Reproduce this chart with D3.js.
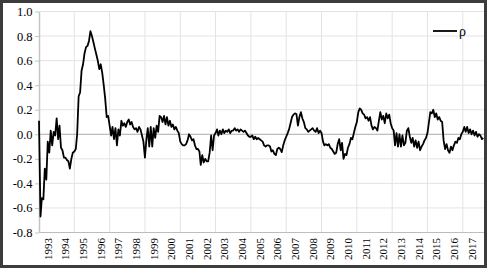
<!DOCTYPE html>
<html><head><meta charset="utf-8">
<script src="https://cdn.jsdelivr.net/npm/d3@7"></script>
<style>body{margin:0;background:#fff}svg{display:block}</style>
</head><body><svg id="c" width="489" height="270"></svg>
<script>
// ---- data (monthly, starting January 1993) ----
const startYear = 1993;
const rho = [
  // 1993
  0.11, -0.67, -0.52, -0.53, -0.28, -0.37, -0.06, -0.15, 0.03, -0.09, 0.02, -0.01,
  // 1994
  0.13, -0.04, 0.07, -0.11, -0.13, -0.19, -0.19, -0.21, -0.22, -0.28, -0.20, -0.15,
  // 1995
  -0.14, -0.12, 0.00, 0.31, 0.34, 0.52, 0.57, 0.66, 0.71, 0.72, 0.76, 0.84,
  // 1996
  0.80, 0.75, 0.70, 0.65, 0.60, 0.53, 0.57, 0.50, 0.40, 0.29, 0.14, 0.15,
  // 1997
  0.07, -0.01, 0.06, -0.04, 0.05, -0.09, 0.04, -0.01, 0.11, 0.07, 0.09, 0.06,
  // 1998
  0.10, 0.12, 0.08, 0.10, 0.06, 0.04, 0.05, 0.02, 0.06, 0.04, -0.01, -0.06,
  // 1999
  -0.19, -0.04, 0.05, -0.10, 0.06, -0.10, 0.05, -0.03, 0.07, 0.02, 0.15, 0.14,
  // 2000
  0.10, 0.15, 0.08, 0.14, 0.07, 0.11, 0.06, 0.08, 0.04, 0.06, 0.03, 0.01,
  // 2001
  -0.06, -0.08, -0.09, -0.09, -0.08, -0.05, 0.00, -0.02, -0.05, -0.04, -0.09, -0.12,
  // 2002
  -0.12, -0.14, -0.25, -0.17, -0.23, -0.20, -0.22, -0.22, -0.15, -0.01, -0.13, -0.01,
  // 2003
  0.01, 0.04, -0.01, 0.03, 0.00, 0.04, 0.01, 0.03, 0.02, 0.04, 0.01, 0.03,
  // 2004
  0.03, 0.05, 0.03, 0.04, 0.02, 0.04, 0.03, 0.02, 0.03, 0.01, -0.01, -0.02,
  // 2005
  -0.02, -0.01, -0.04, -0.02, -0.04, -0.03, -0.04, -0.05, -0.06, -0.09, -0.10, -0.09,
  // 2006
  -0.09, -0.10, -0.14, -0.13, -0.16, -0.17, -0.12, -0.11, -0.12, -0.145, -0.09, -0.05,
  // 2007
  -0.02, 0.01, 0.04, 0.09, 0.14, 0.16, 0.17, 0.165, 0.07, 0.14, 0.18, 0.13,
  // 2008
  0.10, 0.05, 0.04, 0.02, 0.03, 0.04, 0.05, 0.03, 0.02, 0.05, 0.01, 0.03,
  // 2009
  0.01, -0.06, -0.09, -0.08, -0.09, -0.08, -0.11, -0.12, -0.14, -0.16, -0.15, -0.08,
  // 2010
  -0.04, -0.13, -0.07, -0.20, -0.16, -0.17, -0.11, -0.08, -0.03, -0.04, 0.01, 0.06,
  // 2011
  0.10, 0.18, 0.21, 0.20, 0.17, 0.16, 0.13, 0.14, 0.11, 0.14, 0.07, 0.04,
  // 2012
  0.06, 0.05, 0.03, 0.11, 0.18, 0.12, 0.15, 0.09, 0.17, 0.13, 0.16, 0.09,
  // 2013
  0.05, 0.03, -0.09, 0.01, -0.10, 0.00, -0.10, -0.01, -0.09, -0.07, 0.03, 0.05,
  // 2014
  -0.02, -0.07, -0.03, -0.10, -0.05, -0.11, -0.06, -0.13, -0.10, -0.08, -0.05, -0.03,
  // 2015
  0.01, 0.10, 0.18, 0.17, 0.20, 0.14, 0.17, 0.12, 0.14, 0.11, 0.10, -0.05,
  // 2016
  -0.12, -0.08, -0.13, -0.15, -0.10, -0.13, -0.09, -0.06, -0.07, -0.03, -0.04, 0.00,
  // 2017
  0.02, 0.06, 0.02, 0.06, 0.01, 0.04, 0.00, 0.03, -0.01, 0.02, -0.02, 0.00,
  // 2018
  -0.01, -0.04, -0.03
];
const yTicks = [-0.8, -0.6, -0.4, -0.2, 0.0, 0.2, 0.4, 0.6, 0.8, 1.0];
const yearLabels = [1993, 1994, 1995, 1996, 1997, 1998, 1999, 2000, 2001, 2002, 2003, 2004, 2005,
                    2006, 2007, 2008, 2009, 2010, 2011, 2012, 2013, 2014, 2015, 2016, 2017];
const gridYears = [1995, 1997, 1999, 2001, 2003, 2005, 2007, 2009, 2011, 2013, 2015, 2017];
const seriesName = "\u03C1";

// ---- drawing ----
const svg = d3.select("#c");
const serif = "Liberation Serif, DejaVu Serif, serif";
const dates = rho.map((v, i) => d3.timeMonth.offset(new Date(startYear, 0, 1), i));

const x = d3.scaleTime()
  .domain([new Date(1993, 0, 1), new Date(2018, 2, 1)])
  .range([39, 483.3]);
const y = d3.scaleLinear().domain([-0.8, 1.0]).range([232.5, 11.5]);
const xLeft = 39, xRight = 484;

// horizontal gridlines
svg.append("g").selectAll("line").data(yTicks.filter(d => d !== 0 && d !== -0.8)).join("line")
  .attr("x1", xLeft).attr("x2", xRight)
  .attr("y1", d => y(d)).attr("y2", d => y(d))
  .attr("stroke", "#e3e3e3").attr("stroke-width", 1);

// vertical gridlines
svg.append("g").selectAll("line").data(gridYears).join("line")
  .attr("x1", d => x(new Date(d, 0, 1))).attr("x2", d => x(new Date(d, 0, 1)))
  .attr("y1", y(1.0)).attr("y2", y(-0.8))
  .attr("stroke", "#e3e3e3").attr("stroke-width", 1);

// zero line and bottom axis line
svg.append("line").attr("x1", xLeft).attr("x2", xRight)
  .attr("y1", y(0)).attr("y2", y(0)).attr("stroke", "#ababab").attr("stroke-width", 1);
svg.append("line").attr("x1", xLeft).attr("x2", xRight)
  .attr("y1", y(-0.8)).attr("y2", y(-0.8)).attr("stroke", "#bdbdbd").attr("stroke-width", 1.2);

// y axis
const yAxis = svg.append("g").attr("transform", `translate(${xLeft},0)`)
  .call(d3.axisLeft(y).tickValues(yTicks).tickFormat(d => d.toFixed(1)).tickSize(4).tickSizeOuter(0).tickPadding(2.5))
  .attr("font-family", serif).attr("font-size", 12.5);
yAxis.select(".domain").attr("stroke", "#c4c4c4").attr("stroke-width", 1.5);
yAxis.selectAll(".tick line").attr("stroke", "#c4c4c4");
yAxis.selectAll(".tick text").attr("fill", "#000");

// x labels (rotated)
svg.append("g").attr("font-family", serif).attr("font-size", 11)
  .selectAll("text").data(yearLabels).join("text")
  .attr("transform", d => `translate(${x(new Date(d, 6, 1))},238) rotate(-90)`)
  .attr("text-anchor", "end").attr("dominant-baseline", "central")
  .attr("fill", "#000")
  .text(d => d);

// series line
const line = d3.line().x((d, i) => x(dates[i])).y(d => y(d));
svg.append("path").datum(rho).attr("d", line)
  .attr("fill", "none").attr("stroke", "#000").attr("stroke-width", 1.8)
  .attr("stroke-linejoin", "round");

// legend
svg.append("line").attr("x1", 433).attr("x2", 457).attr("y1", 31).attr("y2", 31)
  .attr("stroke", "#000").attr("stroke-width", 1.8);
svg.append("text").attr("x", 459).attr("y", 31).attr("dominant-baseline", "central")
  .attr("font-family", serif).attr("font-size", 14).text(seriesName);

// outer frame
svg.append("rect").attr("x", 1.5).attr("y", 1.5).attr("width", 484).attr("height", 265)
  .attr("fill", "none").attr("stroke", "#3c3c3c").attr("stroke-width", 3);
</script></body></html>
